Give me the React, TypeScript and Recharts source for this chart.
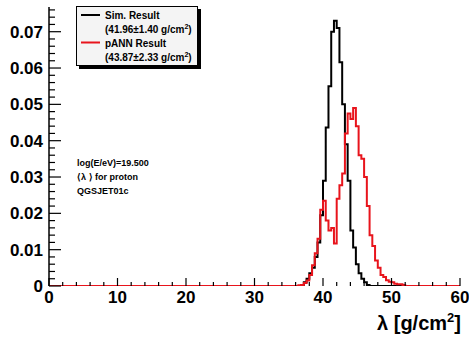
import { LineChart, Line, XAxis, YAxis } from 'recharts'

// lower bin edges (g/cm^2); first and last points carry the empty range out to the frame
const binEdges = [
  0, 36.0, 36.4, 36.8, 37.2, 37.6, 38.0, 38.4, 38.8, 39.2, 39.6, 40.0, 40.4, 40.8, 41.2,
  41.6, 42.0, 42.4, 42.8, 43.2, 43.6, 44.0, 44.4, 44.8, 45.2, 45.6, 46.0, 46.4, 46.8,
  47.2, 47.6, 48.0, 48.4, 48.8, 49.2, 49.6, 50.0, 50.4, 50.8, 51.2, 51.6, 52.0, 52.4, 60,
]

const simValues = [
  0, 0, 0, 0.0003, 0.001, 0.002, 0.0035, 0.005, 0.008, 0.012, 0.0195, 0.029, 0.0436, 0.055,
  0.070, 0.073, 0.071, 0.0616, 0.05, 0.039, 0.029, 0.0153, 0.0106, 0.006, 0.0035, 0.002,
  0.001, 0.0003, 0, 0, 0, 0, 0, 0, 0, 0, 0, 0, 0, 0, 0, 0, 0, 0,
]

const pannValues = [
  0, 0, 0.0002, 0.0003, 0.0008, 0.0015, 0.003, 0.0057, 0.009, 0.013, 0.021, 0.0235, 0.018,
  0.0153, 0.016, 0.0117, 0.024, 0.0277, 0.031, 0.042, 0.0475, 0.046, 0.049, 0.044, 0.036,
  0.035, 0.030, 0.022, 0.014, 0.011, 0.007, 0.005, 0.003, 0.0025, 0.0016, 0.0012, 0.001,
  0.0006, 0.0005, 0.0005, 0.0003, 0, 0, 0,
]

const xTicks = [
  0, 2, 4, 6, 8, 10, 12, 14, 16, 18, 20, 22, 24, 26, 28, 30, 32, 34, 36, 38, 40, 42, 44,
  46, 48, 50, 52, 54, 56, 58, 60,
]

const yTicks = [
  0, 0.002, 0.004, 0.006, 0.008, 0.01, 0.012, 0.014, 0.016, 0.018, 0.02, 0.022, 0.024,
  0.026, 0.028, 0.03, 0.032, 0.034, 0.036, 0.038, 0.04, 0.042, 0.044, 0.046, 0.048, 0.05,
  0.052, 0.054, 0.056, 0.058, 0.06, 0.062, 0.064, 0.066, 0.068, 0.07, 0.072, 0.074, 0.076,
]

const legendItems = [
  { name: 'Sim. Result', detail: '(41.96±1.40 g/cm', color: '#000000' },
  { name: 'pANN Result', detail: '(43.87±2.33 g/cm', color: '#e8141c' },
]

const notes = ['log(E/eV)=19.500', '⟨λ ⟩ for proton', 'QGSJET01c']

const FONT = '"Liberation Sans", Arial, Helvetica, sans-serif'
const RED = '#e8141c'

const isMajorX = (v: number) => v % 10 === 0
const isMajorY = (v: number) => Math.abs(v * 100 - Math.round(v * 100)) < 1e-6

// ROOT style: ticks point into the frame, labels outside
function BottomTick(props: any) {
  const { x, y, payload } = props
  const v = payload.value
  const major = isMajorX(v)
  return (
    <g>
      <line x1={x} y1={y} x2={x} y2={y - (major ? 8 : 4)} stroke="#000" strokeWidth={1.2} />
      {major && (
        <text x={x} y={y + 17} textAnchor="middle" fontSize={17} fontWeight="bold" fontFamily={FONT} fill="#000">
          {v}
        </text>
      )}
    </g>
  )
}

function TopTick(props: any) {
  const { x, y, payload } = props
  const major = isMajorX(payload.value)
  return <line x1={x} y1={y} x2={x} y2={y + (major ? 8 : 4)} stroke="#000" strokeWidth={1.2} />
}

function LeftTick(props: any) {
  const { x, y, payload } = props
  const v = payload.value
  const major = isMajorY(v)
  return (
    <g>
      <line x1={x} y1={y} x2={x + (major ? 12 : 6)} y2={y} stroke="#000" strokeWidth={1.2} />
      {major && (
        <text x={x - 6} y={y + 6} textAnchor="end" fontSize={17} fontWeight="bold" fontFamily={FONT} fill="#000">
          {v === 0 ? '0' : v.toFixed(2)}
        </text>
      )}
    </g>
  )
}

function RightTick(props: any) {
  const { x, y, payload } = props
  const major = isMajorY(payload.value)
  return <line x1={x} y1={y} x2={x - (major ? 12 : 6)} y2={y} stroke="#000" strokeWidth={1.2} />
}

function AxisTitle(props: any) {
  const vb = props.viewBox
  if (!vb) return null
  return (
    <text x={vb.x + vb.width + 1} y={vb.y + 44} textAnchor="end" fontSize={20} fontWeight="bold" fontFamily={FONT} fill="#000">
      λ [g/cm<tspan dy={-8} fontSize={13}>2</tspan>
      <tspan dy={8}>]</tspan>
    </text>
  )
}

function LegendBox() {
  return (
    <div
      style={{
        position: 'absolute', left: 76, top: 6, width: 120, height: 58, background: '#f4f4f4',
        border: '1px solid #000', boxShadow: '3px 3px 0 #000',
      }}
    >
      <svg width={120} height={58} style={{ position: 'absolute', left: 0, top: 0 }}>
        {legendItems.map((it, i) => {
          const y0 = 8 + i * 27.5
          return (
            <g key={it.name} fontFamily={FONT} fontWeight="bold" fontSize={10} fill="#000">
              <line x1={4} y1={y0} x2={23} y2={y0} stroke={it.color} strokeWidth={2} />
              <text x={28} y={y0 + 4}>{it.name}</text>
              <text x={28} y={y0 + 18}>
                {it.detail}<tspan dy={-4} fontSize={7}>2</tspan><tspan dy={4}>)</tspan>
              </text>
            </g>
          )
        })}
      </svg>
    </div>
  )
}

export default function App() {
  const rows = binEdges.map((x, i) => ({ x, sim: simValues[i], pann: pannValues[i] }))

  return (
    <div style={{ position: 'absolute', left: 0, top: 0, width: 469, height: 341, background: '#fff' }}>
      <LineChart width={469} height={341} data={rows} margin={{ top: 7, right: 9, bottom: 0, left: 0 }}>
        {/* bottom frame edge is drawn by the histograms' zero baseline, as in ROOT */}
        <XAxis
          xAxisId="bottom" orientation="bottom" type="number" dataKey="x" domain={[0, 60]}
          ticks={xTicks} interval={0} height={55} tickSize={0} tickMargin={0} tickLine={false}
          axisLine={false} tick={(p: any) => <BottomTick {...p} />}
          label={<AxisTitle />} allowDataOverflow
        />
        <XAxis
          xAxisId="top" orientation="top" type="number" dataKey="x" domain={[0, 60]}
          ticks={xTicks} interval={0} height={0} tickSize={0} tickMargin={0} tickLine={false}
          axisLine={{ stroke: '#000', strokeWidth: 1.5 }} tick={(p: any) => <TopTick {...p} />}
          allowDataOverflow
        />
        <YAxis
          yAxisId="left" orientation="left" type="number" domain={[0, 0.0768]} ticks={yTicks}
          interval={0} width={49} tickSize={0} tickMargin={0} tickLine={false}
          axisLine={{ stroke: '#000', strokeWidth: 1.5 }} tick={(p: any) => <LeftTick {...p} />}
          allowDataOverflow
        />
        <YAxis
          yAxisId="right" orientation="right" type="number" domain={[0, 0.0768]} ticks={yTicks}
          interval={0} width={0} tickSize={0} tickMargin={0} tickLine={false}
          axisLine={{ stroke: '#000', strokeWidth: 1.5 }} tick={(p: any) => <RightTick {...p} />}
          allowDataOverflow
        />
        <Line
          xAxisId="bottom" yAxisId="left" dataKey="sim" type="stepAfter" stroke="#000"
          strokeWidth={2} dot={false} activeDot={false} isAnimationActive={false}
        />
        <Line
          xAxisId="top" yAxisId="right" dataKey="pann" type="stepAfter" stroke={RED}
          strokeWidth={2} dot={false} activeDot={false} isAnimationActive={false}
        />
      </LineChart>
      <LegendBox />
      <div
        style={{
          position: 'absolute', left: 77, top: 156, fontFamily: FONT, fontWeight: 'bold',
          fontSize: 9, lineHeight: '14px', color: '#000', whiteSpace: 'pre',
        }}
      >
        {notes.map((n) => <div key={n}>{n}</div>)}
      </div>
    </div>
  )
}
